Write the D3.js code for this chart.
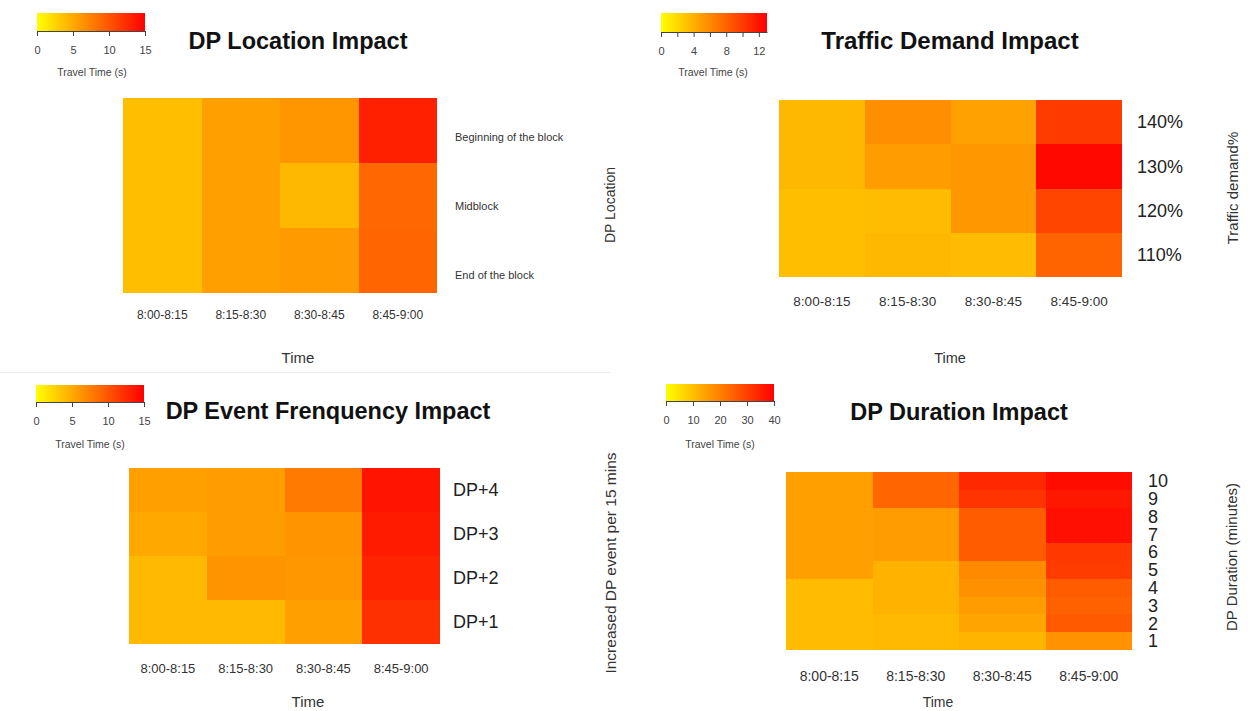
<!DOCTYPE html>
<html>
<head>
<meta charset="utf-8">
<script src="https://cdn.jsdelivr.net/npm/d3@7"></script>
<style>
  body { margin: 0; background: #fff; }
  svg { display: block; font-family: "Liberation Sans", Arial, sans-serif; }
</style>
</head>
<body>
<svg id="chart" width="1248" height="711"></svg>
<script>
// time slots shared by all four heatmaps
const times = ["8:00-8:15", "8:15-8:30", "8:30-8:45", "8:45-9:00"];

// DP location impact (travel time, s) - rows top to bottom
const locations = ["Beginning of the block", "Midblock", "End of the block"];
const locationTT = [
  [3.8, 5.6, 6.2, 13.1],
  [3.8, 5.6, 4.2, 8.9],
  [3.8, 5.6, 5.9, 9.0]
];

// traffic demand impact
const demands = ["140%", "130%", "120%", "110%"];
const demandTT = [
  [3.6, 5.7, 4.8, 10.0],
  [3.6, 5.0, 5.3, 12.6],
  [3.3, 3.4, 5.3, 9.5],
  [3.3, 3.6, 3.4, 7.9]
];

// DP event frequency impact
const events = ["DP+4", "DP+3", "DP+2", "DP+1"];
const eventTT = [
  [5.6, 5.8, 7.8, 13.8],
  [5.1, 5.8, 6.3, 13.4],
  [4.1, 6.3, 6.1, 12.9],
  [4.1, 4.1, 5.6, 12.2]
];

// DP duration impact (minutes 10 down to 1)
const durations = ["10", "9", "8", "7", "6", "5", "4", "3", "2", "1"];
const durationTT = [
  [14.9, 24.0, 33.7, 38.1],
  [14.9, 24.0, 31.8, 36.2],
  [14.9, 15.5, 25.6, 37.5],
  [14.9, 15.5, 25.6, 37.5],
  [14.9, 15.5, 25.6, 31.2],
  [14.9, 12.1, 18.4, 30.6],
  [10.5, 12.1, 17.4, 25.6],
  [10.5, 12.1, 15.5, 24.9],
  [10.5, 10.8, 14.3, 25.9],
  [10.5, 10.8, 11.8, 17.1]
];

// colour bar ranges and ticks
const legendMax = [15, 13, 15, 40];
const legendTicks = [
  [0, 5, 10, 15],
  [0, 2, 4, 6, 8, 10, 12],
  [0, 5, 10, 15],
  [0, 10, 20, 30, 40]
];
const legendLabelEvery = [5, 4, 5, 10];

const titles = ["DP Location Impact", "Traffic Demand Impact", "DP Event Frenquency Impact", "DP Duration Impact"];
const yTitles = ["DP Location", "Traffic demand%", "Increased DP event per 15 mins", "DP Duration (minutes)"];

const svg = d3.select("#chart");
const defs = svg.append("defs");

// faint divider between the two left panels
svg.append("line")
  .attr("x1", 0).attr("x2", 610)
  .attr("y1", 372.5).attr("y2", 372.5)
  .attr("stroke", "#ececec");

const panels = [
  {
    rows: locations, values: locationTT,
    hx: [123, 437], hy: [98, 293],
    labelRange: [103, 310], labelX: 455, labelSize: 11, labelColor: "#333",
    tickY: 315, tickSize: 12,
    timeX: 298, timeY: 358, timeSize: 15,
    vX: 610, vY: 205, vSize: 14,
    title: [298, 41, 23.5],
    bar: [37, 145, 13, 31], barLabel: [92, 72]
  },
  {
    rows: demands, values: demandTT,
    hx: [779, 1122], hy: [100, 277],
    labelX: 1137, labelSize: 18, labelColor: "#222",
    tickY: 301, tickSize: 13.5,
    timeX: 950, timeY: 358, timeSize: 14.5,
    vX: 1233, vY: 188, vSize: 15,
    title: [950, 41, 24],
    bar: [661, 767, 13, 32], barLabel: [713, 72]
  },
  {
    rows: events, values: eventTT,
    hx: [129, 440], hy: [468, 644],
    labelX: 453, labelSize: 18, labelColor: "#222",
    tickY: 668, tickSize: 13,
    timeX: 308, timeY: 702, timeSize: 15,
    vX: 611, vY: 563, vSize: 15.5,
    title: [328, 411, 23.5],
    bar: [36, 144, 385, 402], barLabel: [90, 444]
  },
  {
    rows: durations, values: durationTT,
    hx: [786, 1132], hy: [472, 650],
    labelX: 1148, labelSize: 18, labelColor: "#222",
    tickY: 676, tickSize: 14,
    timeX: 938, timeY: 702, timeSize: 14,
    vX: 1232, vY: 557, vSize: 15,
    title: [959, 412, 23.5],
    bar: [666, 774, 384, 401], barLabel: [720, 444]
  }
];

const drawPanel = (p, i) => {
  const g = svg.append("g");
  const max = legendMax[i];
  const color = d3.scaleLinear().domain([0, max]).range(["#ffff00", "#ff0000"]);

  const x = d3.scaleBand().domain(times).range(p.hx);
  const y = d3.scaleBand().domain(p.rows).range(p.hy);

  const cells = p.values.flatMap((r, ri) =>
    r.map((v, ci) => ({ row: p.rows[ri], time: times[ci], v }))
  );

  g.selectAll("rect.cell")
    .data(cells)
    .join("rect")
    .attr("class", "cell")
    .attr("x", (d) => x(d.time))
    .attr("y", (d) => y(d.row))
    .attr("width", (d) => x.bandwidth() + (d.time === times[3] ? 0 : 0.6))
    .attr("height", (d) => y.bandwidth() + (d.row === p.rows[p.rows.length - 1] ? 0 : 0.6))
    .attr("fill", (d) => color(d.v))
    .attr("shape-rendering", "crispEdges");

  // time labels under the heatmap
  const xAxis = g.append("g")
    .attr("transform", `translate(0,${p.tickY})`)
    .call(d3.axisBottom(x).tickSize(0).tickPadding(0));
  xAxis.select(".domain").remove();
  xAxis.selectAll("text")
    .attr("dy", "0.35em")
    .attr("fill", "#333")
    .style("font-size", p.tickSize + "px")
    .style("font-family", "Liberation Sans, Arial, sans-serif");

  // row labels on the right
  const yl = p.labelRange ? d3.scaleBand().domain(p.rows).range(p.labelRange) : y;
  const yAxis = g.append("g")
    .attr("transform", `translate(${p.labelX},0)`)
    .call(d3.axisRight(yl).tickSize(0).tickPadding(0));
  yAxis.select(".domain").remove();
  yAxis.selectAll("text")
    .attr("dy", "0.35em")
    .attr("fill", p.labelColor)
    .style("font-size", p.labelSize + "px")
    .style("font-family", "Liberation Sans, Arial, sans-serif");

  g.append("text")
    .attr("x", p.timeX).attr("y", p.timeY)
    .attr("text-anchor", "middle").attr("dy", "0.35em")
    .attr("fill", "#333")
    .style("font-size", p.timeSize + "px")
    .text("Time");

  g.append("text")
    .attr("transform", `translate(${p.vX},${p.vY}) rotate(-90)`)
    .attr("text-anchor", "middle").attr("dy", "0.35em")
    .attr("fill", "#333")
    .style("font-size", p.vSize + "px")
    .text(yTitles[i]);

  g.append("text")
    .attr("x", p.title[0]).attr("y", p.title[1])
    .attr("text-anchor", "middle").attr("dy", "0.35em")
    .attr("fill", "#111")
    .style("font-size", p.title[2] + "px")
    .style("font-weight", "bold")
    .text(titles[i]);

  // colour bar
  const [bx0, bx1, by0, by1] = p.bar;
  const grad = defs.append("linearGradient").attr("id", "grad" + i);
  grad.selectAll("stop")
    .data(d3.range(0, 1.0001, 0.1))
    .join("stop")
    .attr("offset", (t) => t)
    .attr("stop-color", (t) => color(t * max));

  g.append("rect")
    .attr("x", bx0).attr("y", by0)
    .attr("width", bx1 - bx0).attr("height", by1 - by0)
    .attr("fill", `url(#grad${i})`);

  const lx = d3.scaleLinear().domain([0, max]).range([bx0, bx1]);
  const lAxis = g.append("g")
    .attr("transform", `translate(0,${by1})`)
    .call(
      d3.axisBottom(lx)
        .tickValues(legendTicks[i])
        .tickSize(5)
        .tickSizeOuter(0)
        .tickPadding(10)
        .tickFormat((d) => (d % legendLabelEvery[i] === 0 ? d : ""))
    );
  lAxis.select(".domain").attr("stroke", "#444");
  lAxis.selectAll(".tick line").attr("stroke", "#444");
  lAxis.selectAll("text")
    .attr("fill", "#444")
    .style("font-size", "11px")
    .style("font-family", "Liberation Sans, Arial, sans-serif");

  g.append("text")
    .attr("x", p.barLabel[0]).attr("y", p.barLabel[1])
    .attr("text-anchor", "middle").attr("dy", "0.35em")
    .attr("fill", "#444")
    .style("font-size", "10.5px")
    .text("Travel Time (s)");
};

panels.forEach(drawPanel);
</script>
</body>
</html>
